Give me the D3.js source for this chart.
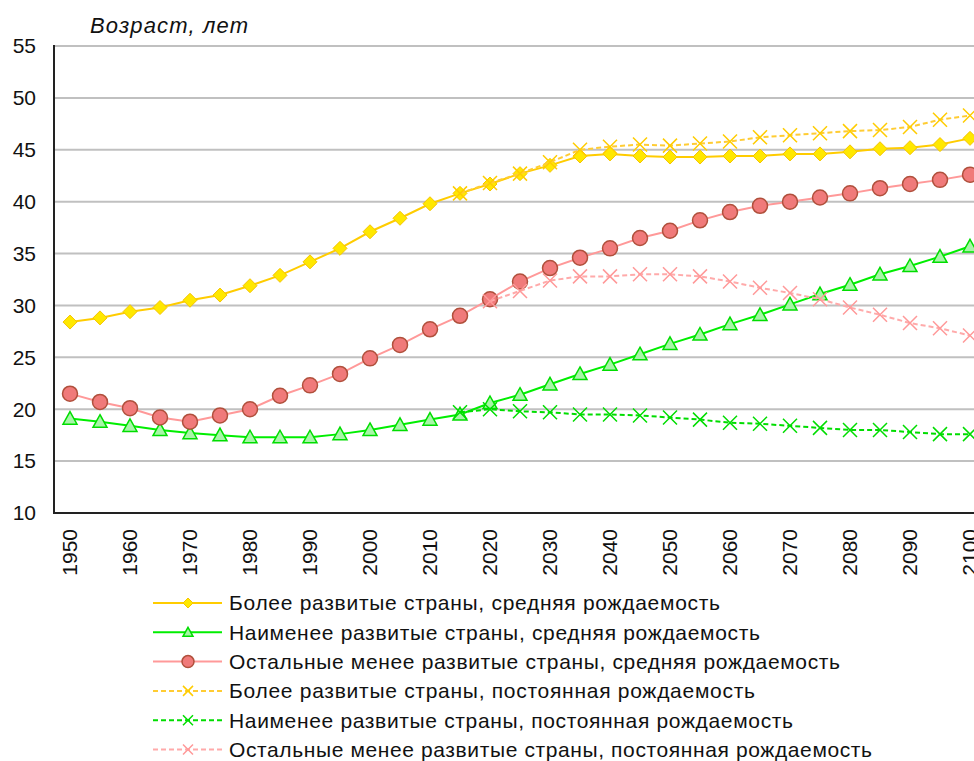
<!DOCTYPE html>
<html lang="ru">
<head>
    <meta charset="UTF-8">
    <title>Медианный возраст населения</title>
    <script src="https://d3js.org/d3.v7.min.js"></script>
    <style>
        body, html {
            margin: 0;
            background: #fff;
        }
        text {
            font-family: "Liberation Sans", Arial, sans-serif;
            fill: #111;
        }
        .grid line {
            stroke: #c0c0c0;
            stroke-width: 2px;
        }
    </style>
</head>
<body>
<div id="chart"></div>

<script>
// Categories (every 5 years)
var years = [1950, 1955, 1960, 1965, 1970, 1975, 1980, 1985, 1990, 1995,
             2000, 2005, 2010, 2015, 2020, 2025, 2030, 2035, 2040, 2045,
             2050, 2055, 2060, 2065, 2070, 2075, 2080, 2085, 2090, 2095, 2100];
var yTicks = [10, 15, 20, 25, 30, 35, 40, 45, 50, 55];
var xTickYears = [1950, 1960, 1970, 1980, 1990, 2000, 2010, 2020, 2030, 2040,
                  2050, 2060, 2070, 2080, 2090, 2100];

// medium fertility, 1950-2100
var moreDevMedium = [28.4, 28.8, 29.4, 29.8, 30.5, 31.0, 31.9, 32.9, 34.2, 35.5,
                     37.1, 38.4, 39.8, 40.8, 41.7, 42.7, 43.5, 44.4, 44.6, 44.4,
                     44.3, 44.3, 44.4, 44.4, 44.6, 44.6, 44.8, 45.1, 45.2, 45.5, 46.1];
var leastDevMedium = [19.1, 18.8, 18.4, 18.0, 17.7, 17.5, 17.3, 17.3, 17.3, 17.6,
                      18.0, 18.5, 19.0, 19.5, 20.6, 21.4, 22.4, 23.4, 24.3, 25.3,
                      26.3, 27.2, 28.2, 29.1, 30.1, 31.1, 32.0, 33.0, 33.8, 34.7, 35.7];
var otherMedium = [21.5, 20.7, 20.1, 19.2, 18.8, 19.4, 20.0, 21.3, 22.3, 23.4,
                   24.9, 26.2, 27.7, 29.0, 30.6, 32.3, 33.6, 34.6, 35.5, 36.5,
                   37.2, 38.2, 39.0, 39.6, 40.0, 40.4, 40.8, 41.3, 41.7, 42.1, 42.6];

// constant fertility (null = no value for that year)
var moreDevConst = [null, null, null, null, null, null, null, null, null, null,
                    null, null, null, 40.8, 41.8, 42.7, 43.8, 45.0, 45.3, 45.5,
                    45.4, 45.6, 45.8, 46.2, 46.4, 46.6, 46.8, 46.9, 47.2, 47.9, 48.3];
var leastDevConst = [null, null, null, null, null, null, null, null, null, null,
                     null, null, null, 19.7, 20.0, 19.8, 19.7, 19.5, 19.5, 19.4,
                     19.2, 19.0, 18.7, 18.6, 18.4, 18.2, 18.0, 18.0, 17.8, 17.6, 17.6];
var otherConst = [null, null, null, null, null, null, null, null, null, null,
                  null, null, null, null, 30.4, 31.4, 32.4, 32.8, 32.8, 33.0,
                  33.0, 32.8, 32.3, 31.7, 31.2, 30.6, 29.8, 29.1, 28.3, 27.8, 27.1];

var seriesNames = [
    "Более развитые страны, средняя рождаемость",
    "Наименее развитые страны, средняя рождаемость",
    "Остальные менее развитые страны, средняя рождаемость",
    "Более развитые страны, постоянная рождаемость",
    "Наименее развитые страны, постоянная рождаемость",
    "Остальные менее развитые страны, постоянная рождаемость"
];

var width = 974, height = 761;

var svg = d3.select("#chart").append("svg")
    .attr("width", width)
    .attr("height", height);

var x = d3.scaleLinear().domain([1950, 2100]).range([70, 970]);
var y = d3.scaleLinear().domain([10, 55]).range([513, 46]);
var plotLeft = 54, plotRight = 974;

// gridlines
svg.append("g")
    .attr("class", "grid")
    .selectAll("line")
    .data(yTicks.slice(1))
    .enter().append("line")
    .attr("x1", plotLeft)
    .attr("x2", plotRight)
    .attr("y1", function(d) { return y(d); })
    .attr("y2", function(d) { return y(d); });

// axes lines
svg.append("line")
    .attr("x1", plotLeft).attr("x2", plotLeft)
    .attr("y1", y(55) - 1).attr("y2", y(10) + 1)
    .attr("stroke", "#222").attr("stroke-width", 2);
svg.append("line")
    .attr("x1", plotLeft).attr("x2", plotRight)
    .attr("y1", y(10)).attr("y2", y(10))
    .attr("stroke", "#222").attr("stroke-width", 2);

// y tick labels
svg.append("g")
    .selectAll("text")
    .data(yTicks)
    .enter().append("text")
    .attr("x", 36)
    .attr("y", function(d) { return y(d); })
    .attr("dy", "0.35em")
    .attr("text-anchor", "end")
    .style("font-size", "21px")
    .text(function(d) { return d; });

// x tick labels (rotated)
svg.append("g")
    .selectAll("text")
    .data(xTickYears)
    .enter().append("text")
    .attr("transform", function(d) { return "translate(" + x(d) + ",529) rotate(-90)"; })
    .attr("dy", "0.35em")
    .attr("text-anchor", "end")
    .style("font-size", "21px")
    .text(function(d) { return d; });

// axis title
svg.append("text")
    .attr("x", 90)
    .attr("y", 33)
    .style("font-size", "22px")
    .style("font-style", "italic")
    .attr("textLength", 158)
    .attr("lengthAdjust", "spacing")
    .text("Возраст, лет");

// marker shapes
function drawMarker(g, type, cx, cy, s, st) {
    if (type === "diamond") {
        g.append("path")
            .attr("d", "M" + cx + "," + (cy - s) + "L" + (cx + s) + "," + cy + "L" + cx + "," + (cy + s) + "L" + (cx - s) + "," + cy + "Z")
            .attr("fill", st.fill).attr("stroke", st.markerStroke).attr("stroke-width", 1);
    } else if (type === "triangle") {
        g.append("path")
            .attr("d", "M" + cx + "," + (cy - s) + "L" + (cx + s) + "," + (cy + s * 0.8) + "L" + (cx - s) + "," + (cy + s * 0.8) + "Z")
            .attr("fill", st.fill).attr("stroke", st.markerStroke).attr("stroke-width", 1.5);
    } else if (type === "circle") {
        g.append("circle")
            .attr("cx", cx).attr("cy", cy).attr("r", s)
            .attr("fill", st.fill).attr("stroke", st.markerStroke).attr("stroke-width", 1.5);
    } else if (type === "cross") {
        g.append("path")
            .attr("d", "M" + (cx - s) + "," + (cy - s) + "L" + (cx + s) + "," + (cy + s) + "M" + (cx - s) + "," + (cy + s) + "L" + (cx + s) + "," + (cy - s))
            .attr("stroke", st.markerStroke).attr("stroke-width", 1.5).attr("fill", "none");
    }
}

var series = [
    {values: moreDevMedium, line: "#ffcc00", dash: null, marker: "diamond", size: 7, fill: "#ffe800", markerStroke: "#f5c400"},
    {values: leastDevMedium, line: "#00ee00", dash: null, marker: "triangle", size: 7, fill: "#a8f5a8", markerStroke: "#00dd00"},
    {values: otherMedium, line: "#ff9999", dash: null, marker: "circle", size: 7.5, fill: "#f07a7a", markerStroke: "#b0503c"},
    {values: moreDevConst, line: "#ffcc33", dash: "5,3", marker: "cross", size: 7, fill: "none", markerStroke: "#ffcc00"},
    {values: leastDevConst, line: "#00dd00", dash: "5,3", marker: "cross", size: 7, fill: "none", markerStroke: "#00dd00"},
    {values: otherConst, line: "#ffaaaa", dash: "5,3", marker: "cross", size: 7, fill: "none", markerStroke: "#ff9999"}
];

var line = d3.line()
    .defined(function(d) { return d[1] !== null; })
    .x(function(d) { return x(d[0]); })
    .y(function(d) { return y(d[1]); });

series.forEach(function(s) {
    var pts = years.map(function(yr, i) { return [yr, s.values[i]]; });
    var g = svg.append("g");
    g.append("path")
        .datum(pts)
        .attr("d", line)
        .attr("fill", "none")
        .attr("stroke", s.line)
        .attr("stroke-width", 2)
        .attr("stroke-dasharray", s.dash);
    pts.forEach(function(p) {
        if (p[1] !== null) drawMarker(g, s.marker, x(p[0]), y(p[1]), s.size, s);
    });
});

// legend
var legendWidths = [491, 531, 611, 526, 564, 643];
var legend = svg.append("g").attr("transform", "translate(153,603)");
series.forEach(function(s, i) {
    var ly = i * 29.3;
    legend.append("line")
        .attr("x1", 0).attr("x2", 69)
        .attr("y1", ly).attr("y2", ly)
        .attr("stroke", s.line)
        .attr("stroke-width", 2)
        .attr("stroke-dasharray", s.dash);
    drawMarker(legend, s.marker, 35, ly, s.marker === "circle" ? 6 : 5, s);
    legend.append("text")
        .attr("x", 76)
        .attr("y", ly)
        .attr("dy", "0.35em")
        .style("font-size", "21px")
        .attr("textLength", legendWidths[i])
        .attr("lengthAdjust", "spacing")
        .text(seriesNames[i]);
});
</script>
</body>
</html>
